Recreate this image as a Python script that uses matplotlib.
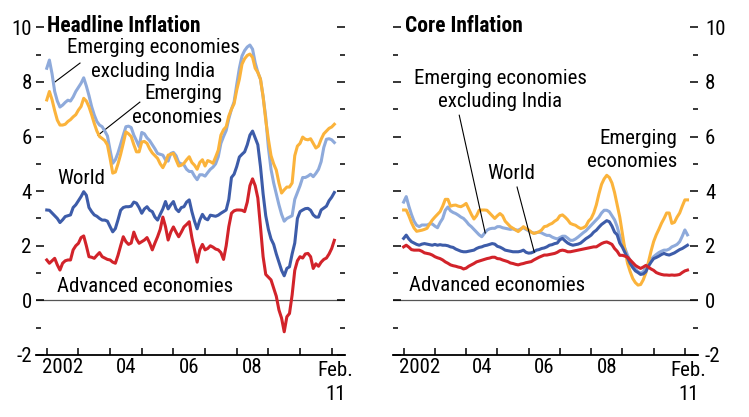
import numpy as np
import matplotlib
matplotlib.use("Agg")
import matplotlib.pyplot as plt
from matplotlib import font_manager

# Monthly data, Jan 2002 - Feb 2011 (percent, 12-month change)
# Headline inflation
world_head = [3.31, 3.3, 3.2, 3.1, 3.0, 2.85, 2.95, 3.07, 3.1, 3.13, 3.4, 3.5,
              3.65, 3.8, 3.98, 3.85, 3.4, 3.25, 3.13, 3.08, 3.0, 2.94, 2.94, 2.9,
              2.7, 2.51, 2.63, 2.95, 3.3, 3.4, 3.43, 3.43, 3.45, 3.6, 3.56, 3.4,
              3.19, 3.35, 3.43, 3.3, 3.25, 3.05, 2.94, 3.15, 3.35, 3.62, 3.35, 3.5,
              3.62, 3.35, 3.25, 3.4, 3.43, 3.6, 3.68, 3.25, 2.9, 2.62, 2.94, 3.15,
              3.0, 2.95, 3.12, 3.1, 3.08, 3.12, 3.19, 3.25, 3.31, 3.7, 4.5, 4.62,
              4.9, 5.25, 5.35, 5.44, 5.7, 6.05, 6.2, 5.95, 5.7, 4.9, 3.9, 3.1,
              2.6, 2.25, 2.05, 1.7, 1.4, 1.1, 0.9, 1.17, 1.23, 1.7, 2.1, 3.0,
              3.25, 3.31, 3.36, 3.37, 3.3, 3.13, 3.05, 3.05, 3.31, 3.38, 3.45, 3.65,
              3.78, 3.95]
adv_head = [1.48, 1.36, 1.45, 1.54, 1.3, 1.11, 1.36, 1.45, 1.48, 1.48, 1.85, 2.0,
            2.09, 2.3, 2.36, 2.0, 1.6, 1.58, 1.54, 1.65, 1.75, 1.6, 1.55, 1.5,
            1.48, 1.4, 1.36, 1.65, 2.0, 2.33, 2.15, 2.05, 2.1, 2.5, 2.25, 2.09,
            2.15, 2.21, 2.3, 2.1, 1.85, 2.1, 2.33, 2.6, 3.05, 2.7, 2.21, 2.5,
            2.69, 2.5, 2.33, 2.5, 2.69, 2.78, 2.88, 2.3, 1.85, 1.4, 1.85, 2.05,
            1.85, 1.9, 2.0, 1.95, 1.88, 1.85, 1.75, 1.5, 2.0, 2.7, 3.19, 3.28,
            3.31, 3.31, 3.3, 3.25, 3.6, 4.2, 4.45, 4.2, 3.75, 2.7, 1.6, 0.95,
            0.85, 0.75, 0.45, 0.15, -0.35, -0.65, -1.15, -0.6, -0.48, 0.2, 1.1, 1.45,
            1.6, 1.55, 1.7, 1.72, 1.6, 1.17, 1.34, 1.25, 1.4, 1.5, 1.55, 1.7,
            1.9, 2.2]
em_head = [7.34, 7.65, 7.35, 6.95, 6.6, 6.42, 6.42, 6.45, 6.55, 6.62, 6.72, 6.8,
           6.97, 7.1, 7.4, 7.3, 7.09, 6.8, 6.48, 6.2, 6.0, 5.93, 5.85, 5.69,
           5.2, 4.66, 4.7, 5.0, 5.35, 5.75, 6.17, 6.1, 6.0, 5.7, 5.44, 5.44,
           5.8, 5.82, 5.75, 5.55, 5.4, 5.3, 5.2, 5.0, 4.86, 5.05, 5.32, 5.35,
           5.38, 5.15, 4.92, 4.95, 5.02, 5.15, 5.26, 5.05, 4.95, 4.8, 5.05, 5.15,
           4.92, 5.12, 5.08, 5.02, 5.25, 5.5, 6.05, 6.25, 6.36, 6.75, 7.0, 7.2,
           7.7, 8.1, 8.65, 8.85, 8.97, 9.02, 8.9, 8.5, 8.35, 8.1, 7.46, 6.6,
           5.9, 5.3, 5.0, 4.77, 4.3, 3.93, 4.05, 4.15, 4.15, 4.3, 5.3, 5.65,
           5.75, 5.98, 5.9, 5.88, 5.92, 5.75, 5.58, 5.65, 5.9, 6.1, 6.2, 6.3,
           6.35, 6.45]
em_exind_head = [8.5, 8.8, 8.3, 7.65, 7.3, 7.08, 7.15, 7.25, 7.33, 7.3, 7.45, 7.65,
                 7.8, 7.95, 8.15, 7.85, 7.5, 7.1, 6.79, 6.55, 6.42, 6.36, 6.2, 6.02,
                 5.5, 5.02, 5.15, 5.4, 5.72, 6.05, 6.36, 6.38, 6.33, 6.05, 5.85, 5.63,
                 6.15, 6.1, 5.95, 5.85, 5.7, 5.55, 5.38, 5.35, 5.32, 5.15, 5.1, 5.38,
                 5.42, 5.3, 5.05, 5.0, 4.96, 4.8, 4.72, 4.72, 4.55, 4.42, 4.6, 4.6,
                 4.55, 4.68, 4.8, 4.88, 5.0, 5.26, 5.75, 6.0, 6.22, 6.65, 7.0, 7.27,
                 7.9, 8.5, 8.95, 9.15, 9.28, 9.35, 9.2, 8.7, 8.35, 8.1, 7.46, 6.7,
                 5.6, 4.8, 4.3, 3.9, 3.5, 3.15, 2.9, 3.0, 3.05, 3.1, 3.7, 3.95,
                 4.2, 4.5, 4.5, 4.55, 4.62, 4.53, 4.65, 4.8, 5.08, 5.6, 5.9, 5.92,
                 5.88, 5.78]

# Core inflation
world_core = [2.27, 2.39, 2.25, 2.15, 2.1, 2.05, 2.02, 2.06, 2.08, 2.06, 2.04, 2.02,
              2.05, 2.02, 2.04, 2.02, 2.02, 2.0, 1.96, 1.94, 1.88, 1.84, 1.8, 1.78,
              1.78, 1.8, 1.82, 1.84, 1.9, 1.94, 1.96, 2.0, 2.02, 2.05, 2.08, 2.06,
              1.98, 1.95, 1.9, 1.84, 1.82, 1.8, 1.78, 1.78, 1.78, 1.8, 1.84, 1.76,
              1.73, 1.74, 1.78, 1.84, 1.86, 1.9, 1.92, 1.96, 2.02, 2.04, 2.08, 2.1,
              2.22, 2.27, 2.18, 2.1, 2.05, 2.02, 2.04, 2.06, 2.1, 2.18, 2.26, 2.32,
              2.39, 2.5, 2.57, 2.68, 2.78, 2.85, 2.92, 2.88, 2.72, 2.5, 2.4, 2.1,
              1.95, 1.75, 1.55, 1.35, 1.2, 1.08, 1.02, 0.95, 0.97, 1.05, 1.25, 1.4,
              1.53, 1.57, 1.62, 1.68, 1.72, 1.68, 1.66, 1.7, 1.74, 1.8, 1.86, 1.9,
              1.96, 2.02]
adv_core = [1.96, 2.02, 1.95, 1.86, 1.84, 1.84, 1.84, 1.8, 1.74, 1.72, 1.7, 1.66,
            1.6, 1.56, 1.53, 1.48, 1.41, 1.36, 1.3, 1.27, 1.25, 1.22, 1.2, 1.15,
            1.18, 1.25, 1.3, 1.35, 1.41, 1.44, 1.47, 1.5, 1.53, 1.55, 1.58, 1.58,
            1.53, 1.52, 1.48, 1.45, 1.42, 1.37, 1.35, 1.32, 1.3, 1.33, 1.35, 1.38,
            1.4, 1.42, 1.48, 1.53, 1.58, 1.62, 1.66, 1.66, 1.68, 1.7, 1.72, 1.76,
            1.82, 1.84, 1.82, 1.78, 1.78, 1.8, 1.82, 1.84, 1.86, 1.88, 1.9, 1.92,
            1.94, 1.96, 1.96, 2.02, 2.08, 2.12, 2.14, 2.1, 2.05, 1.9, 1.8, 1.65,
            1.65, 1.62, 1.58, 1.48, 1.38, 1.28, 1.22, 1.17, 1.22, 1.28, 1.22, 1.15,
            1.1, 1.02, 0.98, 0.95, 0.93, 0.93, 0.92, 0.93, 0.92, 0.93, 0.95, 1.02,
            1.08, 1.11]
em_core = [3.31, 3.31, 3.1, 2.85, 2.65, 2.53, 2.55, 2.57, 2.6, 2.64, 2.8, 2.94,
           3.05, 3.15, 3.25, 3.45, 3.7, 3.7, 3.45, 3.48, 3.49, 3.45, 3.43, 3.48,
           3.55, 3.35, 3.15, 2.98, 3.1, 3.3, 3.31, 3.31, 3.3, 3.2, 3.1, 3.0,
           3.1, 3.18, 3.1, 2.9, 2.8, 2.7, 2.64, 2.58, 2.52, 2.6, 2.7, 2.63,
           2.58, 2.5, 2.45, 2.48, 2.51, 2.58, 2.7, 2.72, 2.78, 2.82, 2.9, 2.96,
           3.1, 3.13, 3.05, 2.95, 2.82, 2.78, 2.75, 2.68, 2.63, 2.66, 2.72, 2.9,
           3.0, 3.2, 3.5, 3.9, 4.25, 4.45, 4.58, 4.5, 4.3, 3.95, 3.5, 3.05,
           2.45, 1.84, 1.35, 1.05, 0.8, 0.65, 0.56, 0.58, 0.75, 1.0, 1.4, 1.8,
           2.15, 2.4, 2.6, 2.82, 3.0, 3.2, 3.2, 2.82, 2.86, 3.05, 3.2, 3.45,
           3.68, 3.68]
em_exind_core = [3.6, 3.8, 3.45, 3.15, 2.9, 2.75, 2.7, 2.76, 2.76, 2.76, 2.8, 2.8,
                 2.72, 2.66, 2.85, 3.0, 3.3, 3.42, 3.28, 3.22, 3.18, 3.12, 3.05, 3.0,
                 2.9, 2.78, 2.7, 2.6, 2.5, 2.4, 2.33, 2.45, 2.57, 2.62, 2.64, 2.64,
                 2.7, 2.7, 2.66, 2.64, 2.62, 2.6, 2.62, 2.58, 2.57, 2.62, 2.66, 2.6,
                 2.55, 2.5, 2.46, 2.48, 2.5, 2.47, 2.42, 2.38, 2.38, 2.32, 2.28, 2.25,
                 2.3, 2.35, 2.35, 2.28, 2.2, 2.2, 2.25, 2.32, 2.4, 2.48, 2.55, 2.65,
                 2.75, 2.85, 2.95, 3.05, 3.2, 3.3, 3.3, 3.25, 3.1, 2.95, 2.7, 2.35,
                 2.15, 1.9, 1.65, 1.45, 1.3, 1.15, 1.05, 1.0, 1.05, 1.2, 1.35, 1.5,
                 1.6, 1.68, 1.75, 1.8, 1.84, 1.84, 1.88, 1.96, 2.0, 2.05, 2.15, 2.35,
                 2.58, 2.4]

year_ticks = list(range(2002, 2012))
year_labels = ["2002", "04", "06", "08"]
year_label_pos = [2002.5, 2004.5, 2006.5, 2008.5]

# colours
C_WORLD = "#3d5ca9"
C_ADV = "#d2232a"
C_EM = "#fbb33b"
C_EMX = "#8eaadb"


# pick a condensed face if one is installed
def pick_font(names):
    for n in names:
        try:
            font_manager.findfont(n, fallback_to_default=False)
            return n
        except Exception:
            pass
    return "DejaVu Sans"


FONT = pick_font(["Liberation Sans Narrow", "Roboto Condensed", "DejaVu Sans Condensed", "Liberation Sans"])
plt.rcParams["font.family"] = [FONT, "DejaVu Sans"]
plt.rcParams["axes.unicode_minus"] = False
FS = 15
LS = 1.3  # line spacing of two-line labels

fig = plt.figure(figsize=(7.49, 4.17), dpi=100)
ax1 = fig.add_axes([36 / 749, 1 - 355 / 417, 309 / 749, 327.7 / 417])
ax2 = fig.add_axes([393 / 749, 1 - 355 / 417, 305 / 749, 327.7 / 417])

months = 2002 + np.arange(len(world_head)) / 12


def style_axis(ax, label_side):
    ax.set_xlim(2001.66, 2011.42)
    ax.set_ylim(-2, 10)
    for s in ["left", "right", "top"]:
        ax.spines[s].set_visible(False)
    ax.spines["bottom"].set_linewidth(1.3)
    ax.axhline(0, color="#555555", lw=0.9, zorder=1)
    ax.set_yticks(range(-2, 11, 2))
    ax.set_yticks(range(-1, 10, 2), minor=True)
    ax.tick_params(axis="y", which="both", direction="in", left=True, right=True,
                   width=1.1, labelsize=FS)
    ax.tick_params(axis="y", which="major", length=5.5)
    ax.tick_params(axis="y", which="minor", length=3.5)
    if label_side == "left":
        ax.tick_params(axis="y", which="major", labelleft=True, labelright=False, pad=3)
    else:
        ax.tick_params(axis="y", which="major", labelleft=False, labelright=True, pad=5)
    ax.set_xticks(year_ticks)
    ax.set_xticklabels([])
    ax.set_xticks(year_label_pos, minor=True)
    ax.set_xticklabels(year_labels, minor=True)
    ax.tick_params(axis="x", which="major", direction="in", length=5, width=1.1)
    ax.tick_params(axis="x", which="minor", length=0, labelsize=FS, pad=2)
    ax.text(2011.12, -2.22, "Feb.\n11", ha="center", va="top", fontsize=FS,
            linespacing=1.3)


def draw(ax, emx, em, world, adv):
    ax.plot(months, emx, color=C_EMX, lw=2.2, zorder=3)
    ax.plot(months, em, color=C_EM, lw=2.2, zorder=4)
    ax.plot(months, world, color=C_WORLD, lw=2.2, zorder=5)
    ax.plot(months, adv, color=C_ADV, lw=2.2, zorder=6)


# Headline panel
style_axis(ax1, "left")
draw(ax1, em_exind_head, em_head, world_head, adv_head)
ax1.text(2002.01, 10.05, "Headline Inflation", fontsize=FS + 0.5, fontweight="bold",
         ha="left", va="center")
ax1.text(2005.36, 8.82, "Emerging economies\nexcluding India", fontsize=FS,
         ha="center", va="center", linespacing=LS)
ax1.plot([2003.05, 2002.26], [8.69, 8.0], color="black", lw=0.8)
ax1.text(2007.54, 7.14, "Emerging\neconomies", fontsize=FS, ha="right",
         va="center", multialignment="right", linespacing=LS)
ax1.plot([2004.94, 2003.62], [7.26, 6.05], color="black", lw=0.8)
ax1.text(2002.33, 4.48, "World", fontsize=FS, ha="left", va="center")
ax1.text(2002.33, 0.52, "Advanced economies", fontsize=FS, ha="left", va="center")

# Core panel
style_axis(ax2, "right")
draw(ax2, em_exind_core, em_core, world_core, adv_core)
ax2.text(2002.05, 10.05, "Core Inflation", fontsize=FS + 0.5, fontweight="bold",
         ha="left", va="center")
ax2.text(2005.09, 7.70, "Emerging economies\nexcluding India", fontsize=FS,
         ha="center", va="center", linespacing=LS)
ax2.plot([2003.78, 2004.61], [6.78, 2.47], color="black", lw=0.8, zorder=7)
ax2.text(2004.67, 4.66, "World", fontsize=FS, ha="left", va="center")
ax2.plot([2005.63, 2006.18], [4.15, 1.77], color="black", lw=0.8, zorder=7)
ax2.text(2010.77, 5.5, "Emerging\neconomies", fontsize=FS, ha="right",
         va="center", multialignment="right", linespacing=LS)
ax2.text(2002.18, 0.56, "Advanced economies", fontsize=FS, ha="left", va="center")

fig.savefig("out.png", dpi=100)
